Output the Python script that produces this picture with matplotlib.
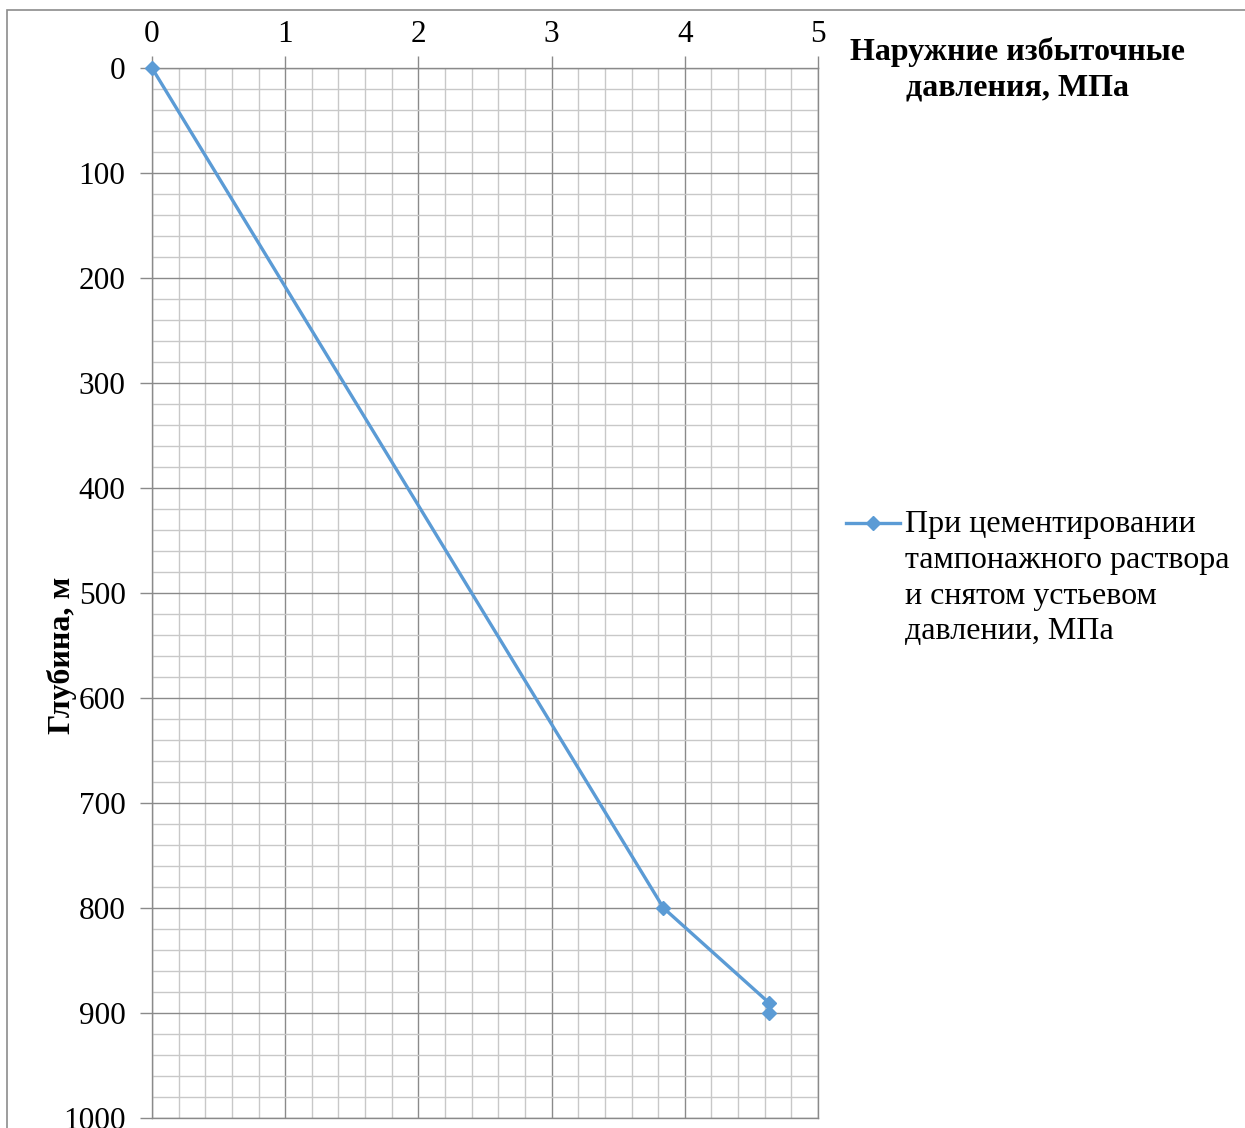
import matplotlib.pyplot as plt
from matplotlib.lines import Line2D
from matplotlib.patches import Rectangle
from matplotlib.ticker import MultipleLocator

# Data: external overpressure (MPa) vs depth (m)
pressure = [0.0, 3.84, 4.63, 4.63]
depth = [0, 800, 890, 900]
series_label = 'При цементировании\nтампонажного раствора\nи снятом устьевом\nдавлении, МПа'
x_title = 'Наружние избыточные\nдавления, МПа'
y_title = 'Глубина, м'

plt.rcParams['font.family'] = ['Liberation Serif', 'DejaVu Serif']
line_color = '#5B9BD5'

my_dpi = 100
W, H = 1245, 1128
fig = plt.figure(figsize=(W / my_dpi, H / my_dpi), dpi=my_dpi)
ax = fig.add_axes([152 / W, 1 - 1118 / H, (818 - 152) / W, (1118 - 68) / H])

# outer chart border
fig.patches.append(Rectangle((7 / W, -0.01), 1.0, 1 - 10 / H + 0.01,
                             transform=fig.transFigure, fill=False,
                             edgecolor='#8c8c8c', linewidth=1.2))

ax.plot(pressure, depth, color=line_color, linewidth=2.4, marker='D',
        markersize=7, clip_on=False, zorder=5)

ax.set_xlim(0, 5)
ax.set_ylim(1000, 0)
ax.xaxis.tick_top()
ax.xaxis.set_major_locator(MultipleLocator(1))
ax.xaxis.set_minor_locator(MultipleLocator(0.2))
ax.yaxis.set_major_locator(MultipleLocator(100))
ax.yaxis.set_minor_locator(MultipleLocator(20))

ax.grid(which='major', color='#8a8a8a', linewidth=1.0)
ax.grid(which='minor', color='#c8c8c8', linewidth=1.0)
ax.set_axisbelow(True)
ax.tick_params(which='major', length=9, width=1.0, color='#8a8a8a', labelsize=22.5)
ax.tick_params(axis='x', which='major', pad=5)
ax.tick_params(axis='y', which='major', pad=10)
ax.tick_params(which='minor', length=0)
for s in ax.spines.values():
    s.set_color('#8a8a8a')
    s.set_linewidth(1.0)

fig.text(1018 / W, 1 - 70 / H, x_title, ha='center', va='center',
         fontsize=23, fontweight='bold', linespacing=1.28)
fig.text(62 / W, 1 - 655 / H, y_title, ha='center', va='center',
         rotation=90, fontsize=23, fontweight='bold')

# legend: handle beside the first line of the label
yl = 1 - 523 / H
fig.add_artist(Line2D([846 / W, 900 / W], [yl, yl], transform=fig.transFigure,
                      color=line_color, linewidth=2.4))
fig.add_artist(Line2D([873 / W], [yl], transform=fig.transFigure,
                      color=line_color, marker='D', markersize=7))
fig.text(905 / W, 1 - 510 / H, series_label, ha='left', va='top',
         fontsize=23, linespacing=1.31)

plt.savefig('out.png', dpi=my_dpi)
